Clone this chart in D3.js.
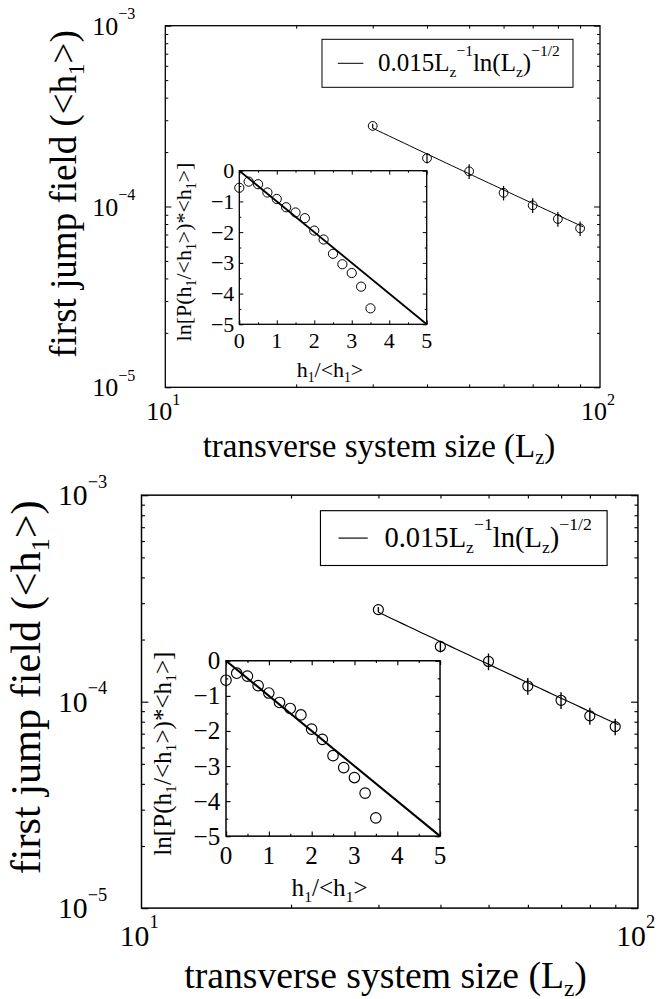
<!DOCTYPE html>
<html>
<head>
<meta charset="utf-8">
<script src="https://cdn.jsdelivr.net/npm/d3@7"></script>
<style>
  html, body { margin: 0; padding: 0; background: #fff; }
  svg { display: block; }
  text { font-family: "Liberation Serif", "Times New Roman", serif; fill: #000; }
</style>
</head>
<body>
<script>
// System sizes and mean first-jump fields with their error bars
const lz = [30, 40, 50, 60, 70, 80, 90];
const h1Mean = [2.79e-4, 1.85e-4, 1.565e-4, 1.19e-4, 1.015e-4, 8.53e-5, 7.57e-5];
const h1Err = [0.08e-4, 0.12e-4, 0.145e-4, 0.11e-4, 0.095e-4, 0.08e-4, 0.07e-4];

// Fit 0.015 Lz^-1 ln(Lz)^-1/2 over this range of Lz
const fitCoef = 0.015;
const fitRange = [30, 91.4];

// Scaled distribution of h1 (inset)
const ratio = [0, 0.25, 0.5, 0.75, 1, 1.25, 1.5, 1.75, 2, 2.25, 2.5, 2.75, 3, 3.25, 3.5];
const lnP = [-0.555, -0.355, -0.44, -0.71, -0.92, -1.19, -1.36, -1.545, -1.95, -2.24,
             -2.705, -3.045, -3.33, -3.775, -4.48];
// Exponential reference ln P = -x
const refLine = [[0, 0], [5, -5]];

// Tick values and labels
const xMajor = [10, 100];
const xMinor = [20, 30, 40, 50, 60, 70, 80, 90];
const xMajorLabels = ["1", "2"];
const yMajor = [1e-5, 1e-4, 1e-3];
const yMinor = [2e-5, 3e-5, 4e-5, 5e-5, 6e-5, 7e-5, 8e-5, 9e-5,
                2e-4, 3e-4, 4e-4, 5e-4, 6e-4, 7e-4, 8e-4, 9e-4];
const yMajorLabels = ["−5", "−4", "−3"];
const insetXMajor = [0, 1, 2, 3, 4, 5];
const insetXMinor = [0.5, 1.5, 2.5, 3.5, 4.5];
const insetYMajor = [0, -1, -2, -3, -4, -5];
const insetYMinor = [-0.5, -1.5, -2.5, -3.5, -4.5];
const insetXLabels = ["0", "1", "2", "3", "4", "5"];
const insetYLabels = ["0", "−1", "−2", "−3", "−4", "−5"];

const W = 669, H = 999;
const svg = d3.select("body").append("svg").attr("width", W).attr("height", H);
svg.append("rect").attr("width", W).attr("height", H).attr("fill", "#fff");

// Writes text made of normal, subscript (1) and superscript (2) runs
function rich(textSel, parts, fs) {
  let shift = 0;
  parts.forEach(([t, mode]) => {
    const target = mode === 1 ? 0.22 * fs : mode === 2 ? -0.6 * fs : 0;
    textSel.append("tspan")
      .attr("dy", target - shift)
      .attr("font-size", mode ? fs * 0.62 : fs)
      .text(t);
    shift = target;
  });
  return textSel;
}

function tickAxis(g, axis, transform) {
  g.append("g").attr("transform", transform).call(axis)
    .call(s => { s.select(".domain").remove(); s.selectAll("text").remove(); })
    .selectAll("line").attr("stroke", "#000").attr("stroke-width", 1);
}

function drawPanel(g) {
  const F = { x0: 165.3, x1: 600, y0: 25.7, y1: 387.3 };
  const x = d3.scaleLog().domain([10, 100]).range([F.x0, F.x1]);
  const y = d3.scaleLog().domain([1e-5, 1e-3]).range([F.y1, F.y0]);

  // ticks on all four sides, pointing inward
  tickAxis(g, d3.axisBottom(x).tickValues(xMinor).tickSize(-3), `translate(0,${F.y1})`);
  tickAxis(g, d3.axisTop(x).tickValues(xMinor).tickSize(-3), `translate(0,${F.y0})`);
  tickAxis(g, d3.axisLeft(y).tickValues(yMajor).tickSize(-6), `translate(${F.x0},0)`);
  tickAxis(g, d3.axisLeft(y).tickValues(yMinor).tickSize(-3), `translate(${F.x0},0)`);
  tickAxis(g, d3.axisRight(y).tickValues(yMajor).tickSize(-6), `translate(${F.x1},0)`);
  tickAxis(g, d3.axisRight(y).tickValues(yMinor).tickSize(-3), `translate(${F.x1},0)`);

  g.append("rect")
    .attr("x", F.x0).attr("y", F.y0)
    .attr("width", F.x1 - F.x0).attr("height", F.y1 - F.y0)
    .attr("fill", "none").attr("stroke", "#000").attr("stroke-width", 1.3);

  // tick labels
  const tfs = 26;
  yMajor.forEach((v, i) => {
    rich(g.append("text").attr("x", F.x0 - 30).attr("y", y(v) + 9)
      .attr("text-anchor", "end"), [["10", 0], [yMajorLabels[i], 2]], tfs);
  });
  xMajor.forEach((v, i) => {
    rich(g.append("text").attr("x", x(v) - 2).attr("y", F.y1 + 33)
      .attr("text-anchor", "middle"), [["10", 0], [xMajorLabels[i], 2]], tfs);
  });

  // axis titles
  rich(g.append("text").attr("x", 379).attr("y", 457).attr("text-anchor", "middle"),
    [["transverse system size (L", 0], ["z", 1], [")", 0]], 33);
  rich(g.append("text").attr("transform", "translate(76,194) rotate(-90)")
    .attr("text-anchor", "middle"),
    [["first jump field (<h", 0], ["1", 1], [">)", 0]], 37);

  // fitted curve
  const fit = L => fitCoef / L / Math.sqrt(Math.log(L));
  const fitL = d3.range(0, 41).map(i => fitRange[0] * Math.pow(fitRange[1] / fitRange[0], i / 40));
  g.append("path")
    .attr("d", d3.line().x(L => x(L)).y(L => y(fit(L)))(fitL))
    .attr("fill", "none").attr("stroke", "#000").attr("stroke-width", 1);

  // error bars and points
  g.selectAll(null).data(lz).join("line")
    .attr("x1", d => x(d)).attr("x2", d => x(d))
    .attr("y1", (d, i) => y(h1Mean[i] - h1Err[i]))
    .attr("y2", (d, i) => y(h1Mean[i] + h1Err[i]))
    .attr("stroke", "#000").attr("stroke-width", 1.2);
  g.selectAll(null).data(lz).join("circle")
    .attr("cx", d => x(d)).attr("cy", (d, i) => y(h1Mean[i]))
    .attr("r", 4.4).attr("fill", "none").attr("stroke", "#000").attr("stroke-width", 1);

  // legend
  g.append("rect").attr("x", 322).attr("y", 39.3).attr("width", 251).attr("height", 48)
    .attr("fill", "#fff").attr("stroke", "#000").attr("stroke-width", 1);
  g.append("line").attr("x1", 337.8).attr("x2", 363.4).attr("y1", 63.3).attr("y2", 63.3)
    .attr("stroke", "#000").attr("stroke-width", 1);
  rich(g.append("text").attr("x", 378).attr("y", 71),
    [["0.015L", 0], ["z", 1], ["−1", 2], ["ln(L", 0], ["z", 1], [")", 0], ["−1/2", 2]], 25);

  // inset
  const I = { x0: 239.3, x1: 426.7, y0: 170.7, y1: 324.3 };
  const xi = d3.scaleLinear().domain([0, 5]).range([I.x0, I.x1]);
  const yi = d3.scaleLinear().domain([-5, 0]).range([I.y1, I.y0]);
  const ig = g.append("g");
  ig.append("rect").attr("x", I.x0).attr("y", I.y0)
    .attr("width", I.x1 - I.x0).attr("height", I.y1 - I.y0).attr("fill", "#fff");
  tickAxis(ig, d3.axisBottom(xi).tickValues(insetXMajor).tickSize(-4), `translate(0,${I.y1})`);
  tickAxis(ig, d3.axisBottom(xi).tickValues(insetXMinor).tickSize(-2), `translate(0,${I.y1})`);
  tickAxis(ig, d3.axisTop(xi).tickValues(insetXMajor).tickSize(-4), `translate(0,${I.y0})`);
  tickAxis(ig, d3.axisTop(xi).tickValues(insetXMinor).tickSize(-2), `translate(0,${I.y0})`);
  tickAxis(ig, d3.axisLeft(yi).tickValues(insetYMajor).tickSize(-4), `translate(${I.x0},0)`);
  tickAxis(ig, d3.axisLeft(yi).tickValues(insetYMinor).tickSize(-2), `translate(${I.x0},0)`);
  tickAxis(ig, d3.axisRight(yi).tickValues(insetYMajor).tickSize(-4), `translate(${I.x1},0)`);
  tickAxis(ig, d3.axisRight(yi).tickValues(insetYMinor).tickSize(-2), `translate(${I.x1},0)`);
  ig.append("rect").attr("x", I.x0).attr("y", I.y0)
    .attr("width", I.x1 - I.x0).attr("height", I.y1 - I.y0)
    .attr("fill", "none").attr("stroke", "#000").attr("stroke-width", 1.3);

  const ifs = 22;
  insetYMajor.forEach((v, i) => {
    ig.append("text").attr("x", I.x0 - 5).attr("y", yi(v) + 7.5).attr("text-anchor", "end")
      .attr("font-size", ifs).text(insetYLabels[i]);
  });
  insetXMajor.forEach((v, i) => {
    ig.append("text").attr("x", xi(v)).attr("y", 348.3).attr("text-anchor", "middle")
      .attr("font-size", ifs).text(insetXLabels[i]);
  });
  rich(ig.append("text").attr("x", 330).attr("y", 376.7).attr("text-anchor", "middle"),
    [["h", 0], ["1", 1], ["/<h", 0], ["1", 1], [">", 0]], 22);
  rich(ig.append("text").attr("transform", "translate(191,252) rotate(-90)")
    .attr("text-anchor", "middle"),
    [["ln[P(h", 0], ["1", 1], ["/<h", 0], ["1", 1], [">)*<h", 0], ["1", 1], [">]", 0]], 22);

  ig.append("path")
    .attr("d", d3.line().x(d => xi(d[0])).y(d => yi(d[1]))(refLine))
    .attr("fill", "none").attr("stroke", "#000").attr("stroke-width", 1.8);
  ig.selectAll(null).data(ratio).join("circle")
    .attr("cx", d => xi(d)).attr("cy", (d, i) => yi(lnP[i]))
    .attr("r", 4.6).attr("fill", "none").attr("stroke", "#000").attr("stroke-width", 1);
}

drawPanel(svg.append("g"));
drawPanel(svg.append("g").attr("transform", "translate(-47.27,465.8) scale(1.142)"));
</script>
</body>
</html>
